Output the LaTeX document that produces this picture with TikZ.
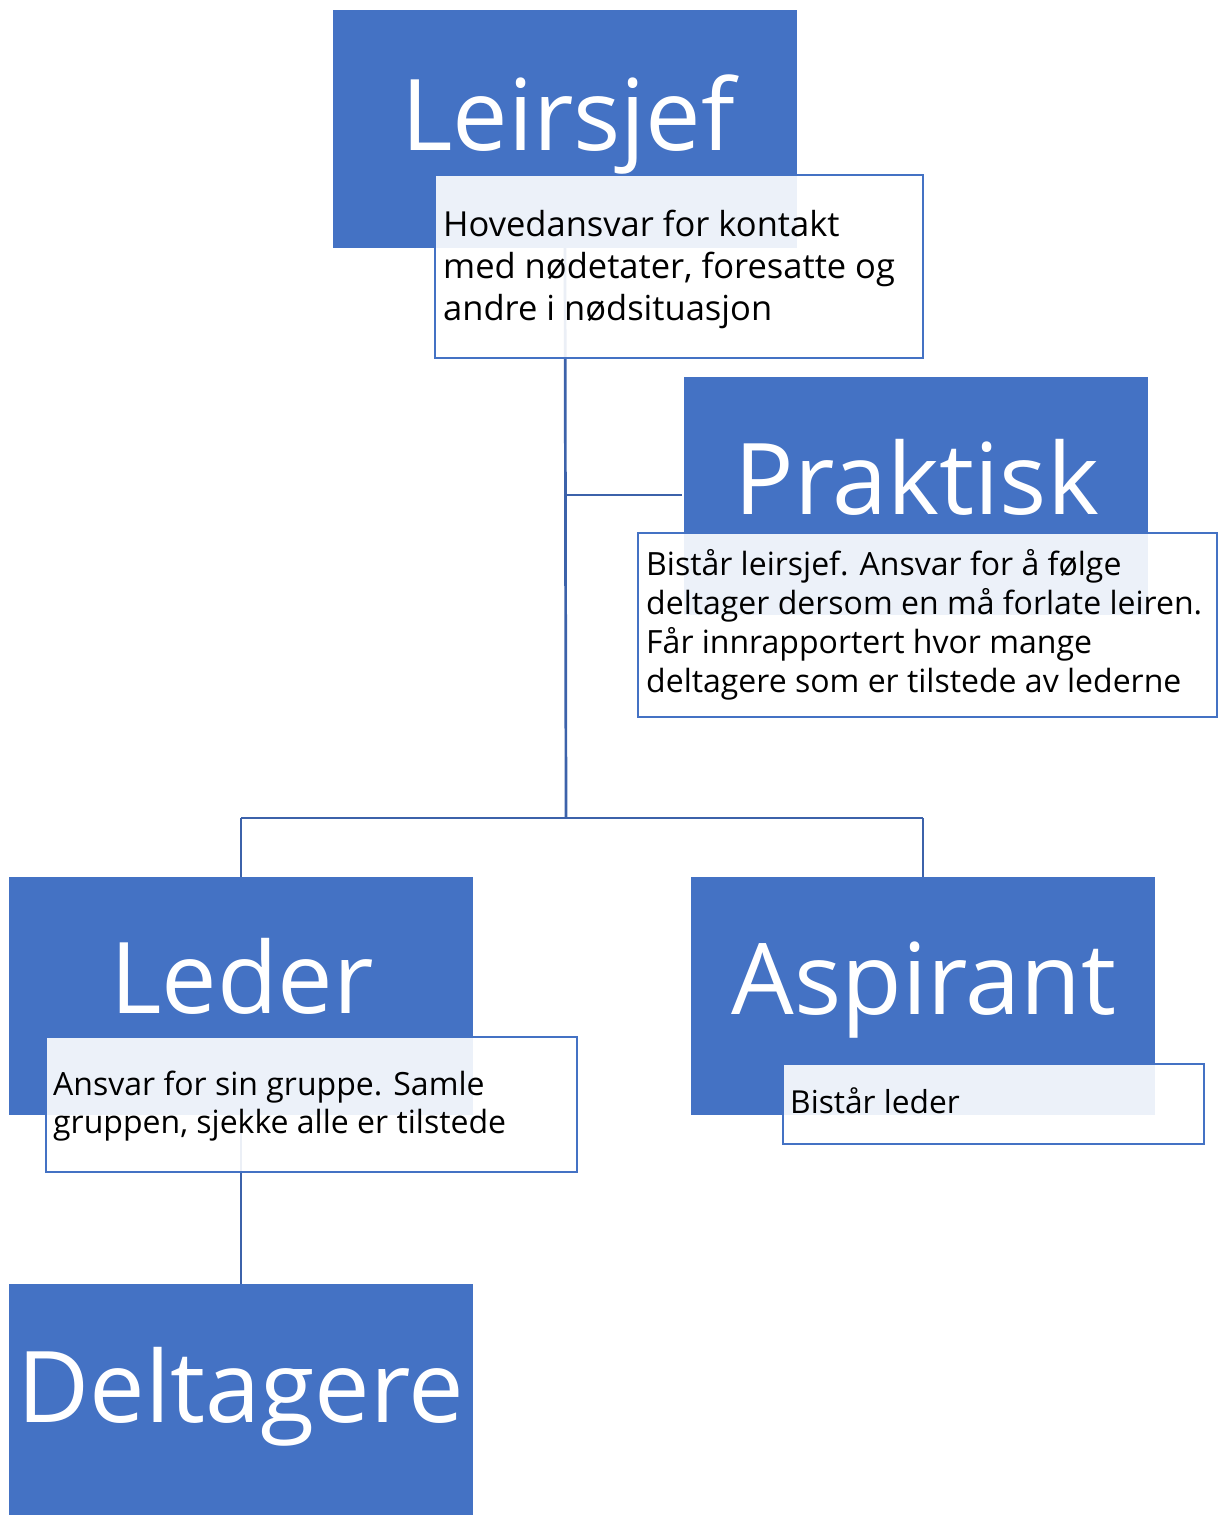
\documentclass[tikz,border=0pt]{standalone}
\usepackage{fontspec}
\setmainfont{Open Sans}
\definecolor{acc}{RGB}{68,114,196}
\definecolor{conn}{RGB}{60,98,170}
\tikzset{
  role/.style={fill=acc, draw=none, minimum width=464pt, minimum height=238pt, anchor=north west, inner sep=0pt, outer sep=0pt},
  title/.style={text=white, font=\fontsize{99}{120}\selectfont, anchor=base, inner sep=0pt},
  desc/.style={draw=acc, line width=1.8pt, fill=white, fill opacity=0.9, anchor=north west, inner sep=0pt, outer sep=0pt},
  desctext/.style={anchor=base west, align=left, inner sep=0pt, text=black},
  link/.style={draw=conn, line width=2.7pt}
}
\begin{document}
\begin{tikzpicture}[x=1pt,y=-1pt]
\useasboundingbox (0,0) rectangle (1220,1515);
% coordinates for connector junctions
\coordinate (jp) at (566,495);
\coordinate (jm) at (566,818);
\coordinate (jl) at (241,818);
\coordinate (ja) at (923,818);
% blue role boxes
\node[role] (ls) at (333,10) {};
\node[role] (pr) at (684,377) {};
\node[role] (le) at (9,877) {};
\node[role] (as) at (691,877) {};
\node[role, minimum height=231pt] (de) at (9,1284) {};
% connectors
\draw[link] (ls.south) -- (jm);
\draw[link] (jp) -- (682,495) coordinate (prl);
\draw[link] (jl) -- (ja);
\draw[link] (jl) -- (le.north);
\draw[link] (ja) -- (as.north);
\draw[link] (le.south) -- (de.north);
% titles
\node[title] (lst) at (568,150) {Leirsjef};
\node[title] (prt) at (917,514) {Praktisk};
\node[title] (let) at (242,1013) {Leder};
\node[title] (ast) at (924,1014) {Aspirant};
\node[title] (det) at (241,1422) {Deltagere};
% description boxes
\node[desc, minimum width=488pt, minimum height=183pt] (lsd) at (435,175) {};
\node[desc, minimum width=579pt, minimum height=184pt] (prd) at (638,533) {};
\node[desc, minimum width=531pt, minimum height=135pt] (led) at (46,1037) {};
\node[desc, minimum width=421pt, minimum height=80pt] (asd) at (783,1064) {};
% description texts (anchor at baseline of last line)
\node[desctext, font=\fontsize{34.5}{42}\selectfont] (lsdt) at (443,320)
  {Hovedansvar for kontakt\\med nødetater, foresatte og\\andre i nødsituasjon};
\node[desctext, font=\fontsize{32}{39}\selectfont] (prdt) at (646,692)
  {Bistår leirsjef. Ansvar for å følge\\deltager dersom en må forlate leiren.\\Får innrapportert hvor mange\\deltagere som er tilstede av lederne};
\node[desctext, font=\fontsize{32}{38}\selectfont] (ledt) at (53,1133)
  {Ansvar for sin gruppe. Samle\\gruppen, sjekke alle er tilstede};
\node[desctext, font=\fontsize{31.7}{40}\selectfont] (asdt) at (790,1113)
  {Bistår leder};
\end{tikzpicture}
\end{document}
